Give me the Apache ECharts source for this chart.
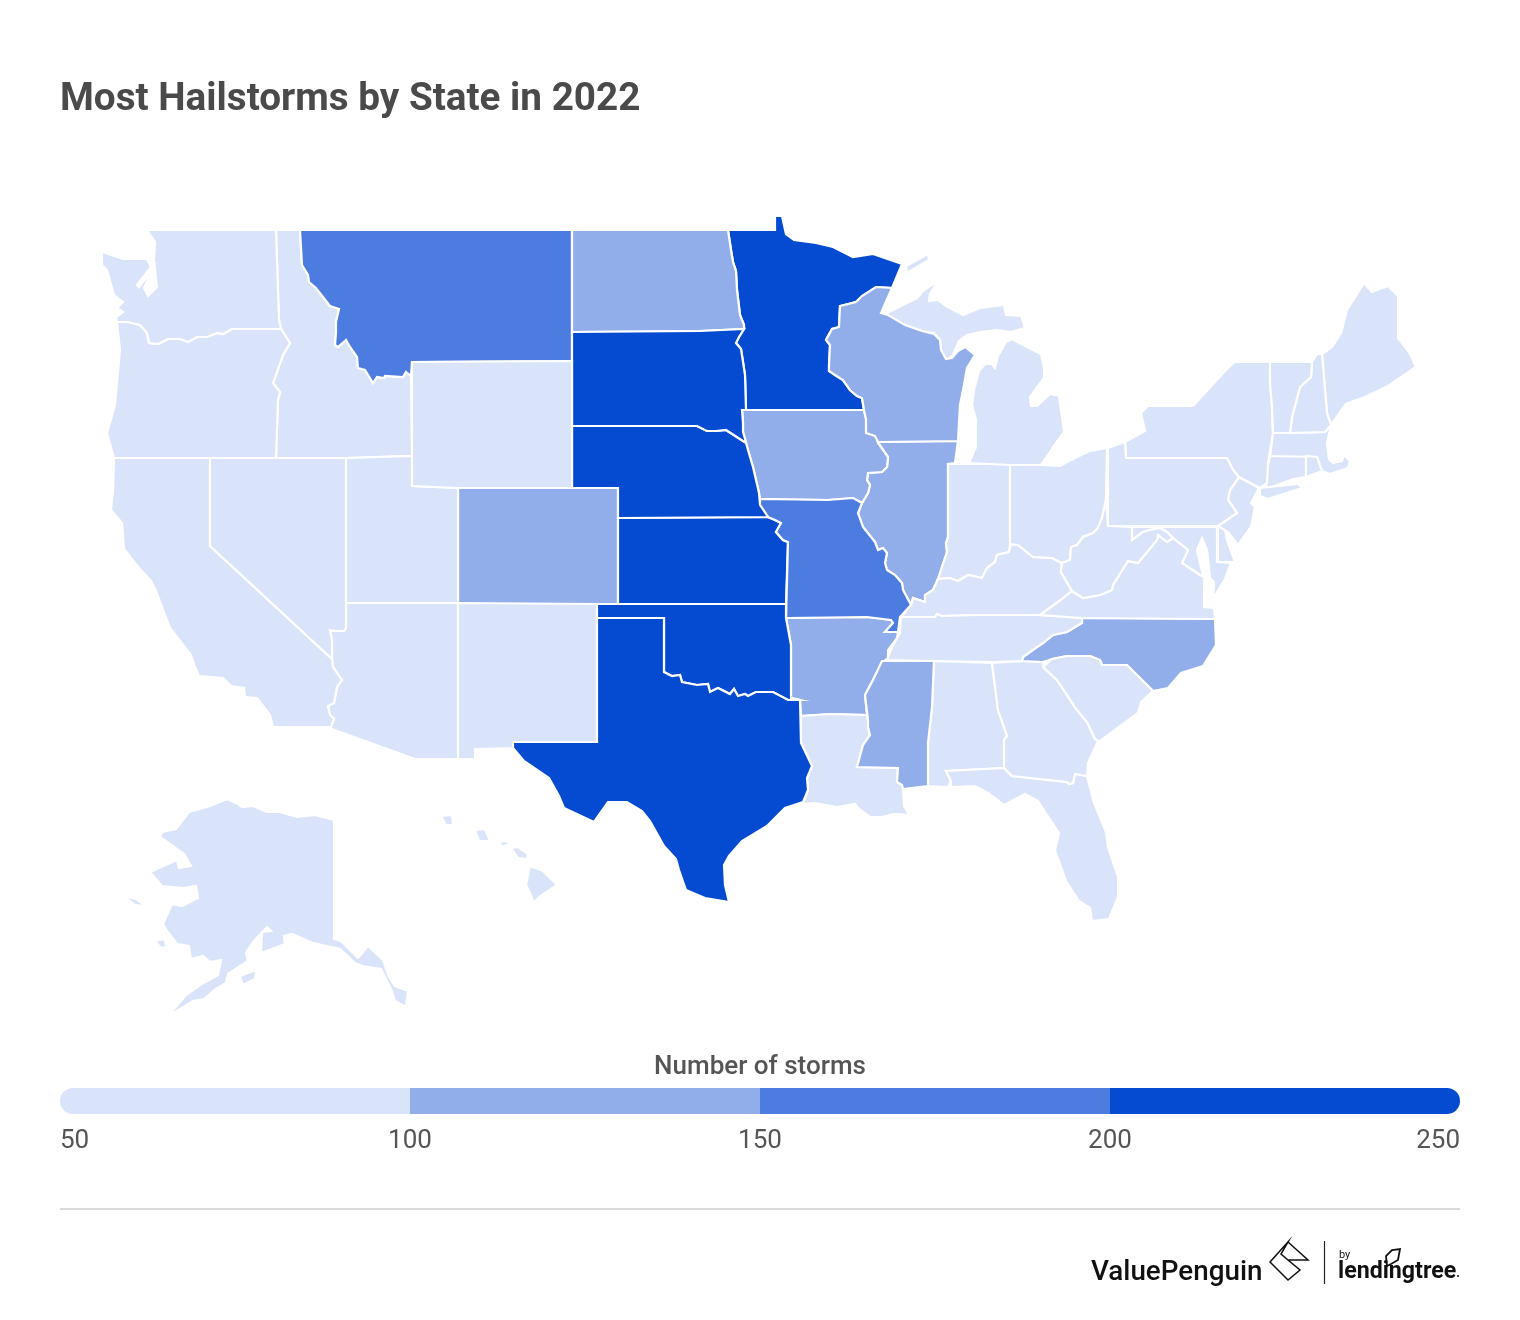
<!DOCTYPE html>
<html><head><meta charset="utf-8">
<style>html,body{margin:0;padding:0;background:#fff}#c{width:1520px;height:1320px}</style>
<script src="https://cdn.jsdelivr.net/npm/echarts@6/dist/echarts.min.js"></script>
</head><body><div id="c"></div>
<script>
const chartTitle = 'Most Hailstorms by State in 2022';
const legendTitle = 'Number of storms';
const tickLabels = [50, 100, 150, 200, 250];
const binColors = ['#d9e4fa', '#92aeea', '#4c7cdf', '#054bd2'];

const states = ['Alabama','Alaska','Arizona','Arkansas','California','Colorado','Connecticut','Delaware','Florida','Georgia','Hawaii','Idaho','Illinois','Indiana','Iowa','Kansas','Kentucky','Louisiana','Maine','Maryland','Massachusetts','Michigan','Minnesota','Mississippi','Missouri','Montana','Nebraska','Nevada','New Hampshire','New Jersey','New Mexico','New York','North Carolina','North Dakota','Ohio','Oklahoma','Oregon','Pennsylvania','Rhode Island','South Carolina','South Dakota','Tennessee','Texas','Utah','Vermont','Virginia','Washington','West Virginia','Wisconsin','Wyoming'];
const storms = [75,75,75,125,75,125,75,75,75,75,75,75,125,75,125,225,75,75,75,75,75,75,225,125,175,175,225,75,75,75,75,75,125,125,75,225,75,75,75,75,225,75,225,75,75,75,75,75,125,75];

// Simplified state outlines, in the map's own planar units
const outlines = {
Washington:['276,230 279,320 281,329 232,329 223,334 217,333 207,337 197,337 188,342 180,339 168,339 158,344 149,343 147,333 140,325 128,322 117,322 116,317 123,312 117,308 123,302 114,295 107,270 102,265 102,252 123,259 147,259 151,267 137,285 139,287 152,270 144,288 148,296 157,287 154,260 155,242 147,230'],
Oregon:['117,322 128,322 140,325 147,333 149,343 158,344 168,339 180,339 188,342 197,337 207,337 217,333 223,334 232,329 281,329 290,343 283,355 277,372 273,383 280,392 278,400 276,458 114,458 107,433 115,405 120,350'],
Idaho:['276,230 300,230 302,265 308,275 309,282 316,288 330,306 339,309 336,322 336,333 335,345 338,347 346,340 350,347 357,357 358,368 365,370 373,383 377,377 384,378 385,376 403,377 406,372 411,376 412,456 346,458 276,458 278,400 280,392 273,383 277,372 283,355 290,343 281,329 279,320'],
Montana:['300,230 572,230 572,361 412,362 411,376 406,372 403,377 385,376 384,378 377,377 373,383 365,370 358,368 357,357 350,347 346,340 338,347 335,345 336,333 336,322 339,309 330,306 316,288 309,282 308,275 302,265'],
Wyoming:['412,362 572,361 572,488 458,488 412,486'],
'North Dakota':['572,230 728,230 731,250 733,262 736,271 737,290 740,315 744,325 744,329 700,331 572,332'],
'South Dakota':['572,332 700,331 744,329 739,337 736,343 741,349 745,375 746,410 742,410 743,423 743,432 746,442 743,441 726,430 716,431 707,431 697,426 572,426'],
Minnesota:['728,230 775,230 775,216 782,216 786,234 794,240 816,243 833,247 853,257 873,254 902,264 892,288 876,287 862,296 856,302 840,306 839,327 832,329 826,340 830,345 829,365 829,371 835,375 843,380 850,390 857,396 862,398 864,410 746,410 745,375 741,349 736,343 739,337 744,329 744,325 740,315 737,290 736,271 733,262 731,250'],
Wisconsin:['892,288 881,313 888,315 905,325 922,331 934,334 940,340 941,350 946,359 952,358 958,351 965,347 975,355 967,368 964,385 960,405 958,441 878,442 875,436 866,433 866,419 864,410 862,398 857,396 850,390 843,380 835,375 829,371 829,365 830,345 826,340 832,329 839,327 840,306 856,302 862,296 876,287'],
Michigan:['887,313 905,304 917,298 924,290 938,281 930,294 929,301 938,300 946,306 963,315 980,308 1004,305 1006,315 1021,316 1025,328 1010,332 997,330 980,332 967,335 959,341 953,355 946,361 941,350 940,340 934,333 922,331 905,325 890,318','906,266 907,273 929,260 928,254','969,463 976,447 976,420 972,405 974,390 979,371 985,364 992,364 995,368 998,356 1006,342 1012,339 1027,347 1041,354 1044,368 1044,378 1030,397 1031,406 1037,406 1050,394 1059,396 1062,417 1064,432 1053,447 1048,455 1041,465 1010,465'],
Iowa:['742,410 864,410 866,419 867,430 877,437 878,443 888,457 887,467 882,472 868,473 867,480 870,485 868,493 862,503 853,498 828,500 760,499 759,493 753,467 750,457 746,443 743,432 743,423'],
Illinois:['878,442 958,441 955,463 948,464 948,537 946,543 947,552 942,567 937,582 933,590 925,595 925,602 913,598 911,605 903,590 902,583 895,575 887,570 885,563 887,553 883,548 878,550 875,542 863,527 858,513 862,503 868,493 870,485 867,480 868,473 882,472 887,467 888,457'],
Indiana:['948,464 1010,464 1010,544 1009,552 997,555 995,562 987,568 982,578 968,575 958,581 950,578 938,579 933,590 937,582 942,567 947,552 946,543 948,537'],
Ohio:['1010,465 1041,465 1060,466 1077,457 1090,451 1107,448 1106,500 1102,518 1098,528 1093,533 1083,537 1077,545 1071,547 1070,560 1062,563 1052,558 1033,557 1018,545 1010,544'],
Nebraska:['572,426 697,426 707,431 716,431 726,430 743,441 746,443 750,457 753,467 759,493 760,505 768,517 618,518 618,488 572,488'],
Kansas:['618,518 768,517 775,520 781,523 776,532 783,540 788,542 786,604 618,604'],
Colorado:['458,488 618,488 618,604 458,604'],
Utah:['346,458 412,456 412,486 458,488 458,603 346,603'],
Nevada:['210,458 346,458 346,628 344,631 336,631 330,630 332,640 332,659 210,546'],
California:['114,458 210,458 210,546 332,659 333,667 342,680 337,687 334,703 328,706 330,715 334,719 331,727 273,727 270,715 257,698 245,697 244,688 231,686 223,678 199,676 195,667 191,655 170,628 156,591 151,581 139,568 124,549 122,523 111,510 113,490'],
Arizona:['346,603 458,603 458,759 415,759 329,728 334,719 330,715 328,706 334,703 337,687 342,680 333,667 332,659 332,640 330,630 336,631 344,631 346,628'],
'New Mexico':['458,603 597,604 597,742 514,742 515,748 475,749 475,759 458,759'],
Texas:['597,618 664,618 664,672 672,676 680,675 682,682 697,685 708,684 710,692 718,688 730,694 734,689 738,696 745,694 748,696 756,692 773,692 788,700 800,700 801,743 812,766 807,778 808,790 803,802 785,808 767,826 742,841 729,856 724,865 725,885 729,902 705,898 686,890 679,870 676,859 664,846 650,821 642,811 627,802 608,802 594,822 564,808 559,796 549,778 524,761 513,748 513,742 597,742'],
Oklahoma:['597,604 786,604 786,618 791,645 791,698 800,700 788,700 773,692 756,692 748,696 745,694 738,696 734,689 730,694 718,688 710,692 708,684 697,685 682,682 680,675 672,676 664,672 664,618 597,618'],
Missouri:['760,499 828,500 853,498 862,503 858,513 863,527 875,542 878,550 883,548 887,553 885,563 887,570 895,575 902,583 903,590 911,605 900,617 898,632 885,632 893,623 891,620 867,617 786,618 788,542 783,540 776,532 781,523 775,520 768,517 760,505'],
Arkansas:['786,618 867,617 891,620 893,623 885,632 898,632 897,638 888,650 888,658 882,663 873,680 865,695 867,715 830,714 801,716 800,700 791,698 791,645'],
Louisiana:['801,716 830,714 867,715 868,720 868,727 870,735 863,745 857,767 898,768 897,782 902,785 903,790 904,806 909,815 900,814 893,814 882,817 870,817 859,809 855,804 837,807 815,803 803,804 808,790 807,778 812,766 801,743'],
Mississippi:['882,661 934,661 932,707 928,743 928,786 903,789 902,785 897,782 898,768 857,767 863,745 870,735 868,727 868,720 865,695 873,680'],
Alabama:['934,661 992,663 998,710 1007,736 1004,740 1004,768 946,771 951,781 948,787 928,786 928,743 932,707'],
Georgia:['992,663 1023,661 1043,662 1044,668 1057,680 1077,710 1087,722 1095,739 1098,741 1088,763 1087,776 1075,774 1073,783 1069,784 1067,782 1012,776 1004,768 1004,740 1007,736 998,710'],
'South Carolina':['1043,667 1052,659 1067,656 1090,656 1100,660 1102,665 1127,665 1153,691 1141,702 1138,713 1100,741 1098,741 1095,739 1087,722 1077,710 1057,680'],
'North Carolina':['1082,618 1215,619 1216,645 1203,666 1181,673 1168,688 1153,691 1127,665 1102,665 1100,660 1090,656 1067,656 1052,659 1043,662 1022,661 1023,657 1037,647 1043,643 1053,635 1067,632 1082,623'],
Tennessee:['901,617 935,617 937,614 942,616 977,615 1040,615 1082,618 1082,623 1067,632 1053,635 1043,643 1037,647 1023,657 1022,661 993,662 934,661 887,660 892,647 900,633'],
Kentucky:['901,617 911,605 913,598 925,602 925,595 933,590 938,579 950,578 958,581 968,575 982,578 987,568 995,562 997,555 1009,552 1011,544 1018,545 1033,557 1052,558 1062,563 1061,572 1072,591 1058,602 1040,615 977,615 942,616 937,614 935,617'],
Virginia:['1040,615 1058,602 1072,591 1083,598 1100,595 1112,590 1113,585 1128,561 1138,563 1157,540 1158,535 1167,542 1173,538 1188,550 1182,563 1200,575 1204,577 1204,607 1214,608 1215,619 1082,618'],
'West Virginia':['1106,500 1108,526 1132,527 1132,540 1143,532 1150,530 1160,528 1167,532 1173,538 1167,542 1158,535 1157,540 1138,563 1128,561 1113,585 1112,590 1100,595 1083,598 1072,591 1061,572 1062,563 1070,560 1071,547 1077,545 1083,537 1093,533 1098,528 1102,518'],
Maryland:['1132,527 1217,527 1217,562 1231,563 1225,579 1213,599 1214,582 1210,578 1207,550 1202,538 1197,550 1203,576 1200,575 1182,563 1188,550 1173,538 1167,532 1160,528 1150,530 1143,532 1132,540'],
Delaware:['1218,526 1225,529 1227,540 1235,562 1218,562'],
Pennsylvania:['1108,448 1125,442 1126,458 1227,458 1233,470 1239,477 1230,490 1228,500 1237,513 1218,526 1108,526'],
'New Jersey':['1239,477 1259,488 1251,503 1255,507 1251,527 1238,545 1228,532 1218,526 1237,513 1228,500 1230,490'],
'New York':['1125,442 1145,431 1141,413 1148,406 1193,406 1227,369 1235,362 1270,362 1270,383 1272,407 1273,433 1268,463 1267,483 1260,488 1259,488 1239,477 1233,470 1227,458 1126,458','1260,488 1298,484 1302,488 1268,499 1260,496'],
Vermont:['1270,362 1312,362 1311,377 1300,387 1292,417 1290,433 1273,433 1272,407 1270,383'],
'New Hampshire':['1312,362 1317,354 1322,354 1327,413 1331,425 1325,432 1290,433 1292,417 1300,387 1311,377'],
Maine:['1322,354 1332,347 1341,333 1347,310 1364,283 1372,292 1388,286 1398,296 1398,338 1409,352 1416,367 1388,386 1365,397 1346,404 1331,425 1327,413'],
Massachusetts:['1273,433 1325,432 1331,425 1327,443 1329,459 1333,463 1342,461 1344,455 1350,461 1348,468 1330,474 1322,471 1317,457 1270,456'],
Connecticut:['1270,456 1306,456 1306,477 1293,479 1267,489 1265,480'],
'Rhode Island':['1306,456 1317,457 1322,471 1306,477'],
Florida:['946,771 1004,768 1012,776 1067,782 1069,784 1073,783 1075,774 1087,776 1094,803 1106,832 1108,847 1118,877 1118,897 1109,919 1092,921 1090,908 1079,901 1066,881 1055,850 1059,833 1051,821 1038,801 1025,794 1004,805 988,793 975,786 951,787 951,781'],
Alaska:['227,799 238,804 242,807 253,806 267,812 280,812 297,817 315,815 334,820 334,939 341,941 358,958 368,946 383,960 389,977 395,986 408,991 406,1007 395,1001 391,989 381,969 362,966 355,963 340,949 313,943 292,934 284,936 285,944 261,953 262,932 271,931 267,927 254,941 246,953 248,961 228,974 226,983 216,989 204,999 193,1001 167,1017 186,995 200,985 218,975 221,960 220,959 210,962 203,956 191,959 189,946 177,944 167,931 163,924 172,904 182,906 198,898 196,886 183,888 162,886 150,872 177,860 179,868 191,866 184,854 160,837 162,832 176,829 189,812 210,806','240,976 256,970 255,979 243,985','155,941 165,939 166,948 160,947','123,896 136,899 146,906 135,905'],
Hawaii:['530,866 543,871 557,885 539,897 534,903 529,891 526,885','511,848 518,847 528,854 527,859 518,858','498,841 512,842 503,847','475,830 485,829 490,841 479,841','441,816 452,815 453,825 446,825']
};

const parseRing = s => { const r = s.split(' ').map(p => p.split(',').map(Number)); r.push(r[0].slice()); return r; };
echarts.registerMap('usa', { type: 'FeatureCollection', features: states.map(name => ({
  type: 'Feature', properties: { name },
  geometry: { type: 'MultiPolygon', coordinates: outlines[name].map(s => [parseRing(s)]) }
})) });

const chart = echarts.init(document.getElementById('c'), null, { renderer: 'canvas' });
const bins = binColors.map((color, i) => ({ min: tickLabels[i], max: tickLabels[i + 1], color }));
const n = bins.length;

chart.setOption({
  animation: false,
  backgroundColor: '#fff',
  textStyle: { fontFamily: 'Roboto' },
  title: [
    { text: chartTitle, left: 60, top: 74.5, padding: 0, textStyle: { fontFamily: 'Roboto', fontSize: 38.7, fontWeight: 700, color: '#4a4a4a', lineHeight: 52 } },
    { text: legendTitle, left: 760, textAlign: 'center', top: 1052, padding: 0, textStyle: { fontFamily: 'Roboto', fontSize: 26, fontWeight: 500, color: '#555555', lineHeight: 30 } }
  ],
  tooltip: { show: false },
  geo: {
    map: 'usa', silent: true, roam: false,
    projection: { project: p => p, unproject: p => p },
    left: 102, top: 216, width: 1314, height: 801,
    itemStyle: { borderColor: '#ffffff', borderWidth: 2.2, areaColor: binColors[0] },
    label: { show: false }, emphasis: { disabled: true }, select: { disabled: true }
  },
  visualMap: {
    show: false, type: 'piecewise', seriesIndex: 0, dimension: 0,
    pieces: bins.map(b => ({ gte: b.min, lt: b.max, color: b.color }))
  },
  grid: { left: 60, right: 60, top: 1088, height: 26, containLabel: false },
  xAxis: {
    type: 'value', min: tickLabels[0], max: tickLabels[n], interval: 50,
    axisLine: { show: false }, axisTick: { show: false }, splitLine: { show: false },
    axisLabel: { margin: 12, fontFamily: 'Roboto', fontSize: 26, color: '#555555', alignMinLabel: 'left', alignMaxLabel: 'right', lineHeight: 30 }
  },
  yAxis: { type: 'value', min: 0, max: 1, show: false },
  series: [
    { type: 'map', geoIndex: 0, data: states.map((name, i) => ({ name, value: storms[i] })), silent: true },
    { type: 'custom', xAxisIndex: 0, yAxisIndex: 0, silent: true, clip: false,
      data: bins.map(b => ({ value: [b.min, b.max], itemStyle: { color: b.color } })),
      renderItem: (params, api) => {
        const a = api.coord([api.value(0), 1]), b = api.coord([api.value(1), 0]);
        const i = params.dataIndex, R = 13;
        return { type: 'rect',
          shape: { x: a[0], y: a[1], width: b[0] - a[0], height: b[1] - a[1], r: i === 0 ? [R, 0, 0, R] : i === n - 1 ? [0, R, R, 0] : 0 },
          style: { fill: binColors[i] } };
      } }
  ],
  graphic: [
    { type: 'line', shape: { x1: 60, y1: 1209, x2: 1460, y2: 1209 }, style: { stroke: '#d9d9d9', lineWidth: 2 }, silent: true },
    { type: 'text', left: 1091, top: 1259, style: { text: 'ValuePenguin', fontFamily: 'Roboto', fontSize: 27.8, fontWeight: 500, fill: '#111' } },
    { type: 'polyline', shape: { points: [[1288,1242],[1308,1260],[1288,1260],[1300,1270],[1288,1280],[1270,1262],[1288,1242],[1281,1254],[1288,1260]] }, style: { stroke: '#111', fill: null, lineWidth: 1.5 }, silent: true },
    { type: 'line', shape: { x1: 1324.5, y1: 1241, x2: 1324.5, y2: 1284 }, style: { stroke: '#222', lineWidth: 1.2 } },
    { type: 'text', left: 1339, top: 1250, style: { text: 'by', fontFamily: 'Roboto', fontSize: 11, fill: '#111' } },
    { type: 'text', left: 1338, top: 1261, style: { text: 'lendingtree', fontFamily: 'Roboto', fontSize: 23.2, fontWeight: 700, fill: '#111' } },
    { type: 'polygon', shape: { points: [[1387,1266],[1386,1256],[1392,1250],[1400,1249],[1398,1260],[1391,1264]] }, style: { stroke: '#111', fill: null, lineWidth: 1.8 } },
    { type: 'circle', shape: { cx: 1458, cy: 1276, r: 1 }, style: { fill: '#111' } }
  ]
});
</script></body></html>
